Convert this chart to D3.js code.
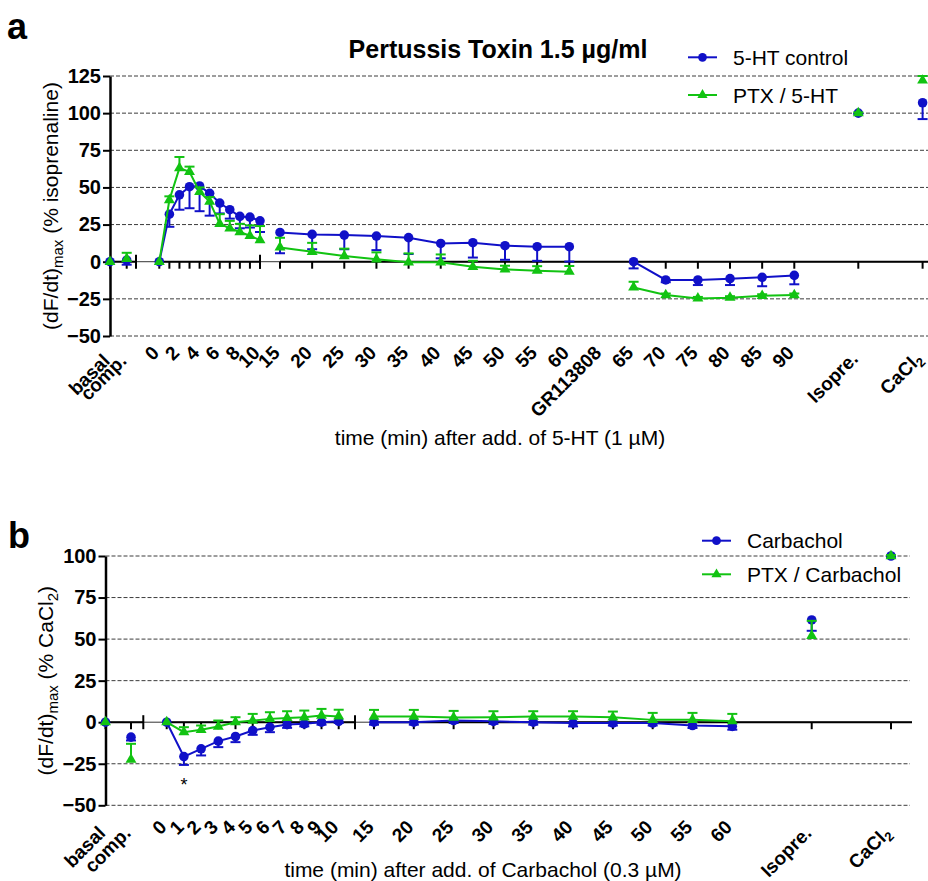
<!DOCTYPE html>
<html lang="en">
<head>
    <meta charset="UTF-8">
    <title>Pertussis Toxin 1.5 µg/ml</title>
    <script src="https://d3js.org/d3.v7.min.js"></script>
    <style>
        body {
            margin: 0;
            background: #fff;
        }
        svg {
            display: block;
            font-family: Arial, "Liberation Sans", Helvetica, sans-serif;
        }
    </style>
</head>
<body>
    <svg id="chart" width="928" height="881"></svg>
    <script>
        // ---- panel a: 5-HT (1 µM), % isoprenaline ----
        const aCats = ["basal", "comp."];
        const aCtrlCat = [0, 1];
        const aCtrlCatErr = [0, 3];
        const aPtxCat = [0, 2];
        const aPtxCatErr = [0, 4];

        const aMin1 = [0, 1, 2, 3, 4, 5, 6, 7, 8, 9, 10];
        const aMin1Labels = [0, 2, 4, 6, 8, 10];
        const aCtrl1 = [0, 32, 45, 50.5, 51, 46, 39.5, 35, 30.5, 30, 27.5];
        const aCtrl1Err = [0, 8.5, 10, 14.5, 17, 15, 7, 6, 8, 7, 7.5];
        const aPtx1 = [0, 41.5, 63, 60.5, 47, 40.5, 25.5, 22.5, 20, 17.5, 14.5];
        const aPtx1Err = [0, 2.5, 7.5, 3.5, 3, 3, 6.5, 5, 5.5, 7, 9.5];

        const aMin2 = [15, 20, 25, 30, 35, 40, 45, 50, 55, 60];
        const aCtrl2 = [19.7, 18.4, 17.9, 17.3, 16.2, 12.3, 12.8, 10.8, 10.1, 10.1];
        const aCtrl2Err = [14, 10, 9.5, 9.5, 11, 10, 10, 9.5, 9.5, 10];
        const aPtx2 = [9.6, 6.7, 3.8, 1.6, -0.4, -0.4, -3.4, -5.2, -6, -6.7];
        const aPtx2Err = [6.5, 6, 5, 4.7, 6, 5.3, 4, 2.5, 3, 3.8];

        const aGapLabel = "GR113808";

        const aMin3 = [65, 70, 75, 80, 85, 90];
        const aCtrl3 = [0, -12.3, -12.3, -11.4, -10.5, -9.2];
        const aCtrl3Err = [4.5, 1.5, 3.4, 4.3, 6, 6];
        const aPtx3 = [-17.3, -22.4, -24.7, -24.2, -22.9, -22.4];
        const aPtx3Err = [3.8, 1, 1, 1, 1, 1];

        const aEnds = ["Isopre.", "CaCl2"];
        const aCtrlEnd = [100, 107];
        const aCtrlEndErr = [0.5, 11];
        const aPtxEnd = [100, 122];
        const aPtxEndErr = [0.5, 3];

        const aYTicks = [-50, -25, 0, 25, 50, 75, 100, 125];

        // ---- panel b: Carbachol (0.3 µM), % CaCl2 ----
        const bCats = ["basal", "comp."];
        const bCtrlCat = [0, -9];
        const bCtrlCatErr = [0, 2];
        const bPtxCat = [0, -22.5];
        const bPtxCatErr = [0, 9.5];

        const bMin1 = [0, 1, 2, 3, 4, 5, 6, 7, 8, 9, 10];
        const bCtrl1 = [0, -20.7, -16, -11.4, -8.6, -5, -3, -1.4, -1, 0, 0.5];
        const bCtrl1Err = [0, 5, 4, 3.6, 3.4, 2.6, 3, 2, 1.5, 1.5, 1];
        const bPtx1 = [0, -6, -4.6, -2.6, 0, 1, 2, 2.6, 3, 4, 3.5];
        const bPtx1Err = [0, 3, 2.6, 3.6, 3, 4, 4, 4, 4, 4, 4];

        const bMin2 = [15, 20, 25, 30, 35, 40, 45, 50, 55, 60];
        const bCtrl2 = [0, 0, 1, 0.5, 0, -0.5, -0.5, -0.5, -2, -2.5];
        const bCtrl2Err = [1.5, 1.5, 1.5, 1.5, 1.5, 2, 1.5, 1.5, 1.5, 2];
        const bPtx2 = [3.4, 3.4, 2.8, 3, 3.4, 3.4, 3, 1.4, 1.4, 0.6];
        const bPtx2Err = [4, 4, 4, 3.6, 3.2, 3.2, 3.4, 4.2, 4.2, 4.4];

        const bEnds = ["Isopre.", "CaCl2"];
        const bCtrlEnd = [61.5, 100];
        const bCtrlEndErr = [6.5, 0.5];
        const bPtxEnd = [52, 100];
        const bPtxEndErr = [9, 0.5];

        const bYTicks = [-50, -25, 0, 25, 50, 75, 100];

        const BLUE = "#1010c8";
        const GREEN = "#12c312";

        const svg = d3.select("#chart");

        // scales for panel a (segmented x axis)
        const yA = d3.scaleLinear().domain([-50, 125]).range([336, 76]);
        const xA = {
            cat: d3.scalePoint().domain(aCats).range([110, 126.7]),
            t1: d3.scaleLinear().domain([0, 10]).range([159.3, 260]),
            t2: d3.scaleLinear().domain([15, 60]).range([280, 569.3]),
            t3: d3.scaleLinear().domain([65, 90]).range([633.6, 794.3]),
            end: d3.scalePoint().domain(aEnds).range([858.3, 922.6])
        };

        // scales for panel b
        const yB = d3.scaleLinear().domain([-50, 100]).range([805.3, 556]);
        const xB = {
            cat: d3.scalePoint().domain(bCats).range([105.5, 131]),
            t1: d3.scaleLinear().domain([0, 10]).range([166.7, 338.7]),
            t2: d3.scaleLinear().domain([15, 60]).range([374, 732.3]),
            end: d3.scalePoint().domain(bEnds).range([811.7, 891])
        };

        // writes text, turning a trailing "Cl2" into a subscript
        function writeLabel(sel, text, subSize) {
            const m = /^(.*Cl)(2)$/.exec(text);
            if (!m) {
                sel.text(text);
                return;
            }
            sel.append("tspan").text(m[1]);
            sel.append("tspan").attr("dy", 4).attr("font-size", subSize).text(m[2]);
        }

        function drawSeries(g, y, segs, key, color, symbol, size, dir) {
            segs.forEach(s => {
                const pts = s.keys.map((k, i) => ({ x: s.scale(k), v: s[key][i], e: s[key + "Err"][i] }));

                if (s.line) {
                    g.append("path")
                        .datum(pts)
                        .attr("d", d3.line().x(d => d.x).y(d => y(d.v)))
                        .attr("fill", "none")
                        .attr("stroke", color)
                        .attr("stroke-width", 2);
                }

                // one-sided error bars (control down, PTX up)
                const eb = g.append("g").attr("stroke", color).attr("stroke-width", 2);
                const withErr = pts.filter(d => d.e > 0);
                eb.selectAll(null).data(withErr).join("line")
                    .attr("x1", d => d.x).attr("x2", d => d.x)
                    .attr("y1", d => y(d.v)).attr("y2", d => y(d.v + dir * d.e));
                eb.selectAll(null).data(withErr).join("line")
                    .attr("x1", d => d.x - 5).attr("x2", d => d.x + 5)
                    .attr("y1", d => y(d.v + dir * d.e)).attr("y2", d => y(d.v + dir * d.e));

                g.append("g").selectAll(null).data(pts).join("path")
                    .attr("transform", d => `translate(${d.x},${y(d.v)})`)
                    .attr("d", d3.symbol().type(symbol).size(size))
                    .attr("fill", color);
            });
        }

        function drawPanel(p) {
            const g = svg.append("g");
            const y = p.y;
            const y0 = y(0);
            const yBot = y.range()[0];

            // dashed grid lines
            g.append("g").selectAll("line")
                .data(p.yTicks.filter(v => v !== 0))
                .join("line")
                .attr("x1", p.axisX).attr("x2", p.gridEnd)
                .attr("y1", d => y(d)).attr("y2", d => y(d))
                .attr("stroke", "#3c3c3c")
                .attr("stroke-width", 1)
                .attr("stroke-dasharray", "4,2");

            // zero line: thin baseline with heavy segments
            g.append("line")
                .attr("x1", p.axisX).attr("x2", p.axisEnd)
                .attr("y1", y0).attr("y2", y0)
                .attr("stroke", "#333").attr("stroke-width", 1);
            g.append("g").selectAll("line")
                .data(p.axisSegs)
                .join("line")
                .attr("x1", d => d[0]).attr("x2", d => d[1])
                .attr("y1", y0).attr("y2", y0)
                .attr("stroke", "#000").attr("stroke-width", 2);
            g.append("g").selectAll("line")
                .data(p.crossTicks)
                .join("line")
                .attr("x1", d => d).attr("x2", d => d)
                .attr("y1", y0 - 7).attr("y2", y0 + 7)
                .attr("stroke", "#000").attr("stroke-width", 2);

            // y axis
            const ax = g.append("g")
                .attr("transform", `translate(${p.axisX},0)`)
                .call(d3.axisLeft(y).tickValues(p.yTicks).tickSize(7).tickSizeOuter(0).tickPadding(2));
            ax.select(".domain").attr("stroke-width", 2.5);
            ax.selectAll(".tick line").attr("stroke-width", 2);
            ax.selectAll(".tick text")
                .attr("font-size", 20)
                .attr("font-weight", "bold")
                .attr("font-family", "Arial, 'Liberation Sans', sans-serif")
                .attr("fill", "#000");

            // x ticks on the zero line and rotated labels along the bottom
            p.segs.forEach(s => {
                g.append("g").selectAll("line")
                    .data(s.ticks)
                    .join("line")
                    .attr("x1", d => s.scale(d)).attr("x2", d => s.scale(d))
                    .attr("y1", y0).attr("y2", y0 + 7)
                    .attr("stroke", "#000").attr("stroke-width", 2);

                const dy = s.labelDy !== undefined ? s.labelDy : p.labelDy;
                g.append("g").selectAll("text")
                    .data(s.labels)
                    .join("text")
                    .attr("transform", d => `translate(${s.scale(d) + 1},${yBot + dy}) rotate(-45)`)
                    .attr("text-anchor", "end")
                    .attr("font-size", 19)
                    .attr("font-weight", "bold")
                    .each(function(d) { writeLabel(d3.select(this), String(d), 13); });
            });

            (p.extraLabels || []).forEach(l => {
                g.append("text")
                    .attr("transform", `translate(${l.x + 1},${yBot + p.labelDy}) rotate(-45)`)
                    .attr("text-anchor", "end")
                    .attr("font-size", 19)
                    .attr("font-weight", "bold")
                    .text(l.text);
            });

            drawSeries(g, y, p.segs, "ctrl", BLUE, d3.symbolCircle, 72, -1);
            drawSeries(g, y, p.segs, "ptx", GREEN, d3.symbolTriangle, 52, 1);

            // y axis title with subscripts
            const yt = g.append("text")
                .attr("transform", `translate(${p.yTitleX},${(y.range()[0] + y.range()[1]) / 2}) rotate(-90)`)
                .attr("text-anchor", "middle")
                .attr("font-size", 21);
            p.yTitleParts.forEach(([txt, sub]) => {
                yt.append("tspan")
                    .attr("dy", sub ? 5 : (yt.selectAll("tspan").size() ? -5 : 0))
                    .attr("font-size", sub ? 15 : null)
                    .text(txt);
            });

            // x axis title
            g.append("text")
                .attr("x", p.xTitleX).attr("y", p.xTitleY)
                .attr("text-anchor", "middle")
                .attr("font-size", 21)
                .text(p.xTitle);

            // legend
            const lg = g.append("g");
            p.legend.forEach((l, i) => {
                const ly = p.legendY[i];
                lg.append("line")
                    .attr("x1", p.legendX).attr("x2", p.legendX + 29)
                    .attr("y1", ly).attr("y2", ly)
                    .attr("stroke", l.color).attr("stroke-width", 2);
                lg.append("path")
                    .attr("transform", `translate(${p.legendX + 14.5},${ly})`)
                    .attr("d", d3.symbol().type(l.symbol).size(l.size))
                    .attr("fill", l.color);
                lg.append("text")
                    .attr("x", p.legendX + 45).attr("y", ly + 7.5)
                    .attr("font-size", 21)
                    .text(l.name);
            });

            g.append("text")
                .attr("x", p.letterX).attr("y", p.letterY)
                .attr("font-size", 36)
                .attr("font-weight", "bold")
                .text(p.letter);
        }

        drawPanel({
            letter: "a", letterX: 7, letterY: 39,
            y: yA, yTicks: aYTicks,
            axisX: 110, axisEnd: 928, gridEnd: 928,
            axisSegs: [[110, 136], [159.3, 260], [280, 928]],
            crossTicks: [136, 260],
            labelDy: 18,
            segs: [
                { scale: xA.cat, keys: aCats, ctrl: aCtrlCat, ctrlErr: aCtrlCatErr, ptx: aPtxCat, ptxErr: aPtxCatErr,
                  line: false, ticks: aCats, labels: aCats, labelDy: 26 },
                { scale: xA.t1, keys: aMin1, ctrl: aCtrl1, ctrlErr: aCtrl1Err, ptx: aPtx1, ptxErr: aPtx1Err,
                  line: true, ticks: aMin1, labels: aMin1Labels },
                { scale: xA.t2, keys: aMin2, ctrl: aCtrl2, ctrlErr: aCtrl2Err, ptx: aPtx2, ptxErr: aPtx2Err,
                  line: true, ticks: aMin2, labels: aMin2 },
                { scale: xA.t3, keys: aMin3, ctrl: aCtrl3, ctrlErr: aCtrl3Err, ptx: aPtx3, ptxErr: aPtx3Err,
                  line: true, ticks: aMin3, labels: aMin3 },
                { scale: xA.end, keys: aEnds, ctrl: aCtrlEnd, ctrlErr: aCtrlEndErr, ptx: aPtxEnd, ptxErr: aPtxEndErr,
                  line: false, ticks: aEnds, labels: aEnds, labelDy: 24 }
            ],
            extraLabels: [{ x: (xA.t2(60) + xA.t3(65)) / 2, text: aGapLabel }],
            yTitleX: 63,
            yTitleParts: [["(dF/dt)", false], ["max", true], [" (% isoprenaline)", false]],
            xTitle: "time (min) after add. of 5-HT (1 µM)", xTitleX: 500, xTitleY: 445,
            legendX: 688, legendY: [57.3, 95],
            legend: [
                { name: "5-HT control", color: BLUE, symbol: d3.symbolCircle, size: 60 },
                { name: "PTX / 5-HT", color: GREEN, symbol: d3.symbolTriangle, size: 45 }
            ]
        });

        drawPanel({
            letter: "b", letterX: 8, letterY: 548,
            y: yB, yTicks: bYTicks,
            axisX: 105.5, axisEnd: 912, gridEnd: 910,
            axisSegs: [[105.5, 143.3], [166.7, 355], [374, 912]],
            crossTicks: [143.3, 355],
            labelDy: 23,
            segs: [
                { scale: xB.cat, keys: bCats, ctrl: bCtrlCat, ctrlErr: bCtrlCatErr, ptx: bPtxCat, ptxErr: bPtxCatErr,
                  line: false, ticks: bCats, labels: bCats, labelDy: 29 },
                { scale: xB.t1, keys: bMin1, ctrl: bCtrl1, ctrlErr: bCtrl1Err, ptx: bPtx1, ptxErr: bPtx1Err,
                  line: true, ticks: bMin1, labels: bMin1 },
                { scale: xB.t2, keys: bMin2, ctrl: bCtrl2, ctrlErr: bCtrl2Err, ptx: bPtx2, ptxErr: bPtx2Err,
                  line: true, ticks: bMin2, labels: bMin2 },
                { scale: xB.end, keys: bEnds, ctrl: bCtrlEnd, ctrlErr: bCtrlEndErr, ptx: bPtxEnd, ptxErr: bPtxEndErr,
                  line: false, ticks: bEnds, labels: bEnds, labelDy: 29 }
            ],
            yTitleX: 58,
            yTitleParts: [["(dF/dt)", false], ["max", true], [" (% CaCl", false], ["2", true], [")", false]],
            xTitle: "time (min) after add. of Carbachol (0.3 µM)", xTitleX: 483, xTitleY: 877,
            legendX: 702, legendY: [540.7, 574.3],
            legend: [
                { name: "Carbachol", color: BLUE, symbol: d3.symbolCircle, size: 60 },
                { name: "PTX / Carbachol", color: GREEN, symbol: d3.symbolTriangle, size: 45 }
            ]
        });

        // title and significance mark
        svg.append("text")
            .attr("x", 498).attr("y", 58)
            .attr("text-anchor", "middle")
            .attr("font-size", 25)
            .attr("font-weight", "bold")
            .text("Pertussis Toxin 1.5 µg/ml");

        svg.append("text")
            .attr("x", xB.t1(1)).attr("y", 791)
            .attr("text-anchor", "middle")
            .attr("font-size", 18)
            .text("*");
    </script>
</body>
</html>
